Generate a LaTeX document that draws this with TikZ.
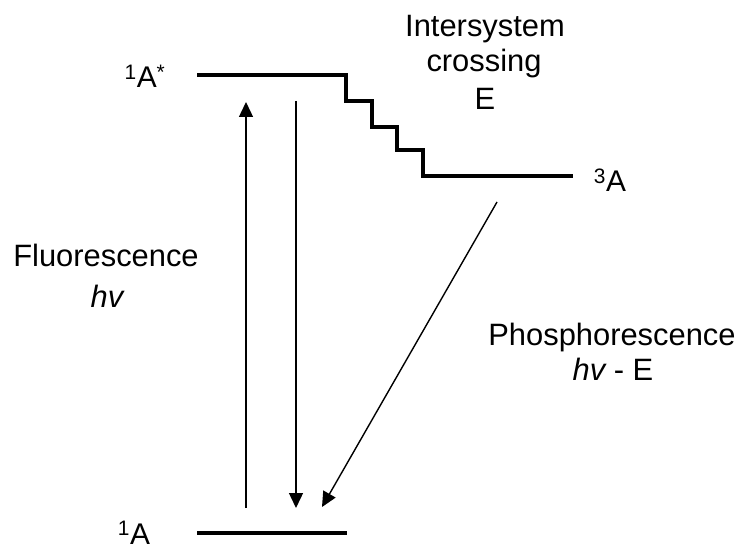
\documentclass[tikz,border=0pt]{standalone}
\usepackage{fontspec}
\setmainfont{Liberation Sans}
\usetikzlibrary{arrows.meta}
\tikzset{
  level/.style={line width=3.5bp, line cap=butt, line join=miter},
  trans/.style={line width=1.4bp, -{Triangle[length=15bp,width=14bp]}},
  lbl/.style={anchor=base, inner sep=0pt, font=\fontsize{31}{36}\selectfont},
  statelbl/.style={anchor=base, inner sep=0pt, font=\fontsize{30}{34}\selectfont}
}
\begin{document}
\begin{tikzpicture}[x=1bp,y=-1bp]
\useasboundingbox (0,0) rectangle (743,549);
% levels
\coordinate (s1l) at (197,75);
\coordinate (s1r) at (346,75);
\coordinate (t1l) at (423,176);
\coordinate (t1r) at (573,176);
\coordinate (g0l) at (197,533);
\coordinate (g0r) at (347,533);
\draw[level] (s1l) -- (s1r) -- (346,101) -- (372,101) -- (372,127) -- (397,127)
  -- (397,150) -- (t1l |- 0,150) -- (t1l) -- (t1r);
\draw[level] (g0l) -- (g0r);
% arrow end points
\coordinate (upA) at (246,508);
\coordinate (upB) at (246,102);
\coordinate (dnA) at (296,101);
\coordinate (dnB) at (296,508);
\coordinate (phA) at (497,202);
\coordinate (phB) at (322,507);
\draw[trans] (upA) -- (upB);
\draw[trans] (dnA) -- (dnB);
\draw[trans] (phA) -- (phB);
% labels
\node[statelbl] (lS1) at (145,88) {\textsuperscript{1}A\textsuperscript{*}};
\node[statelbl] (lT1) at (610,192) {\textsuperscript{3}A};
\node[statelbl, text depth=0pt] (lS0) at (134,544) {\textsuperscript{1}A};
\node[lbl] (isc1) at (485,37) {Intersystem};
\node[lbl] (isc2) at (484,72) {crossing};
\node[lbl] (isc3) at (485,110) {E};
\node[lbl] (fl1) at (106,267) {Fluorescence};
\node[lbl] (fl2) at (107,307) {\itshape hv};
\node[lbl] (ph1) at (612,345) {Phosphorescence};
\node[lbl] (ph2) at (613,380) {{\itshape hv} - E};
\end{tikzpicture}
\end{document}
